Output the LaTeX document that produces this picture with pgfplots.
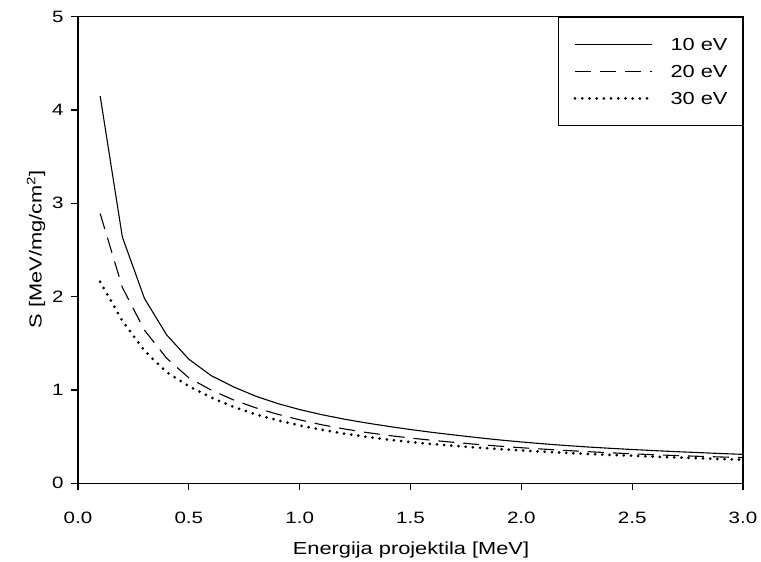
\documentclass[border=0pt]{standalone}
\usepackage{fontspec}
\setmainfont[FakeStretch=1.25]{Liberation Sans}
\usepackage{pgfplots}
\pgfplotsset{compat=1.18}
\usepackage{pgfplotstable}

\pgfplotstableread{
x y
0.1 4.15
0.2 2.64
0.3 1.98
0.4 1.59
0.5 1.33
0.6 1.155
0.7 1.035
0.8 0.935
0.9 0.855
1.0 0.79
1.1 0.735
1.2 0.688
1.3 0.647
1.4 0.61
1.5 0.576
1.6 0.545
1.7 0.517
1.8 0.49
1.9 0.465
2.0 0.443
2.1 0.423
2.2 0.405
2.3 0.389
2.4 0.375
2.5 0.362
2.6 0.35
2.7 0.339
2.8 0.329
2.9 0.319
3.0 0.31
}\tenEV

\pgfplotstableread{
x y
0.1 2.89
0.2 2.10
0.3 1.64
0.4 1.34
0.5 1.13
0.6 1.00
0.7 0.895
0.8 0.81
0.9 0.74
1.0 0.68
1.1 0.627
1.2 0.583
1.3 0.545
1.4 0.513
1.5 0.485
1.6 0.46
1.7 0.438
1.8 0.417
1.9 0.398
2.0 0.381
2.1 0.366
2.2 0.352
2.3 0.339
2.4 0.327
2.5 0.316
2.6 0.306
2.7 0.297
2.8 0.289
2.9 0.282
3.0 0.275
}\twentyEV

\pgfplotstableread{
x y
0.1 2.16
0.2 1.74
0.3 1.42
0.4 1.19
0.5 1.04
0.6 0.92
0.7 0.82
0.8 0.74
0.9 0.675
1.0 0.62
1.1 0.573
1.2 0.533
1.3 0.498
1.4 0.468
1.5 0.442
1.6 0.42
1.7 0.40
1.8 0.383
1.9 0.367
2.0 0.352
2.1 0.339
2.2 0.326
2.3 0.315
2.4 0.305
2.5 0.295
2.6 0.286
2.7 0.277
2.8 0.268
2.9 0.26
3.0 0.252
}\thirtyEV

\begin{document}
\begin{tikzpicture}
\begin{axis}[
  name=ax,
  scale only axis,
  width=665bp, height=466.6bp,
  xmin=0, xmax=3, ymin=0, ymax=5,
  xtick={0,0.5,...,3.0},
  ytick={0,1,2,3,4,5},
  xtick pos=left, ytick pos=left,
  tick align=outside,
  major tick length=7bp,
  axis line style={line width=1.2bp},
  every tick/.style={line width=1.2bp, black},
  /pgf/number format/assume math mode=true,
  xticklabel style={font=\fontsize{16.5}{18}\selectfont, yshift=-18bp, /pgf/number format/fixed, /pgf/number format/fixed zerofill, /pgf/number format/precision=1},
  yticklabel style={font=\fontsize{16.5}{18}\selectfont, xshift=-4bp},
  xlabel={Energija projektila [MeV]},
  ylabel={S [MeV/mg/cm\textsuperscript{2}]},
  xlabel style={font=\fontsize{17.5}{20}\selectfont, at={([yshift=-71.7bp]axis description cs:0.5008,0)}, anchor=base},
  ylabel style={font=\fontsize{17.5}{20}\selectfont, at={([xshift=-36.3bp]axis description cs:0,0.5017)}, anchor=base, rotate=0},
  legend cell align=left,
  legend image code/.code={\draw[#1] (0bp,0bp) -- (77bp,0bp);},
  legend style={at={(rel axis cs:1,1)}, anchor=north east, draw=black, line width=1bp, fill=white,
    font=\fontsize{17.5}{20}\selectfont,
    inner xsep=15bp, inner ysep=21bp,
    nodes={inner sep=0bp, text height=12.5bp, text depth=0bp},
    row sep=14.5bp, column sep=17bp},
]
\addplot[black, line width=1.1bp] table[x=x,y=y] {\tenEV};
\addlegendentry{10 eV}
\addplot[black, line width=1.1bp, dash pattern=on 16bp off 9bp] table[x=x,y=y] {\twentyEV};
\addlegendentry{20 eV}
\addplot[black, line width=3bp, line cap=round, dash pattern=on 0bp off 7.2bp] table[x=x,y=y] {\thirtyEV};
\addlegendentry{30 eV}
\end{axis}
\path (ax.south west) ++(-78bp,-77.7bp) rectangle ([xshift=18bp,yshift=16.7bp]ax.north east);
\end{tikzpicture}
\end{document}
